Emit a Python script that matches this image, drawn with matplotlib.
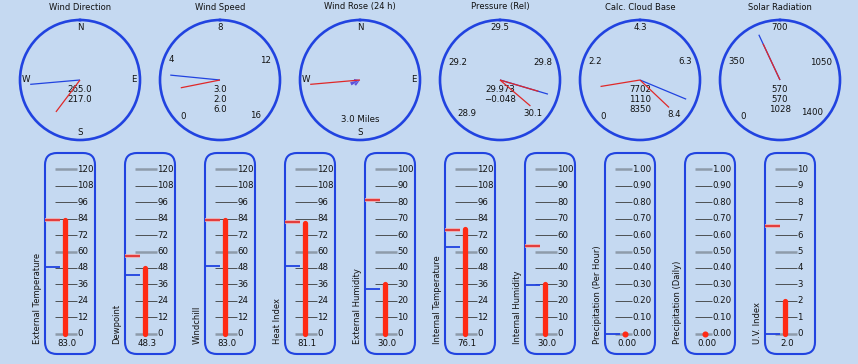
import numpy as np
import matplotlib
matplotlib.use("Agg")
import matplotlib.pyplot as plt
from matplotlib.patches import FancyBboxPatch

# ---------------- data ----------------
gauge_titles = ['Wind Direction', 'Wind Speed', 'Wind Rose (24 h)',
                'Pressure (Rel)', 'Calc. Cloud Base', 'Solar Radiation']

compass_labels = ['N', 'E', 'S', 'W']
compass_angles = [0, 90, 180, 270]

wind_dir_blue = 265.0
wind_dir_red = [217.0]
wind_dir_text = ['265.0', '217.0']

wind_speed_labels = ['0', '4', '8', '12', '16']
wind_speed_range = (0.0, 16.0)
wind_speed_blue = 3.0
wind_speed_red = [2.0]
wind_speed_text = ['3.0', '2.0', '6.0']

wind_rose_red = 265.0
wind_rose_dirs = [225.0, 247.5, 270.0]
wind_rose_counts = [7, 10, 6]
wind_rose_text = ['3.0 Miles']

pressure_labels = ['28.9', '29.2', '29.5', '29.8', '30.1']
pressure_range = (28.9, 30.1)
pressure_blue = 29.973
pressure_red = [29.973, 30.08]
pressure_text = ['29.973', '\u22120.048']

cloud_labels = ['0', '2.2', '4.3', '6.3', '8.4']
cloud_range = (0.0, 8400.0)
cloud_blue = 7702
cloud_red = [1110, 8350]
cloud_text = ['7702', '1110', '8350']

solar_labels = ['0', '350', '700', '1050', '1400']
solar_range = (0.0, 1400.0)
solar_blue = 570
solar_red = [570]
solar_text = ['570', '570', '1028']

therm_labels = ['External Temperature', 'Dewpoint', 'Windchill', 'Heat Index',
                'External Humidity', 'Internal Temperature', 'Internal Humidity',
                'Precipitation (Per Hour)', 'Precipitation (Daily)', 'U.V. Index']
therm_values = [83.0, 48.3, 83.0, 81.1, 30.0, 76.1, 30.0, 0.00, 0.00, 2.0]
therm_value_text = ['83.0', '48.3', '83.0', '81.1', '30.0', '76.1', '30.0',
                    '0.00', '0.00', '2.0']
therm_max = [120, 120, 120, 120, 100, 120, 100, 1.0, 1.0, 10]
therm_step = [12, 12, 12, 12, 10, 12, 10, 0.1, 0.1, 1]
therm_fmt = ['{:.0f}'] * 7 + ['{:.2f}', '{:.2f}', '{:.0f}']
therm_blue = [49.0, 43.0, 49.4, 49.4, 27.0, 63.3, 29.6, 0.0, None, 0.0]
therm_red = [83.2, 56.9, 83.0, 81.3, 81.3, 75.7, 53.2, None, None, 6.57]

# ---------------- style ----------------
W, H = 858, 364
BG = '#C5D9F1'
BLUE = '#2143E0'
RED = '#E02828'
BAR_RED = '#FF2A14'
TXT = '#111111'
FS = 6.2

fig = plt.figure(figsize=(W / 100, H / 100), dpi=100, facecolor=BG)
over = fig.add_axes([0, 0, 1, 1])
over.set_xlim(0, W)
over.set_ylim(H, 0)
over.axis('off')
over.set_facecolor(BG)


def rect_px(x0, y0, w, h):
    return [x0 / W, (H - y0 - h) / H, w / W, h / H]


def label_radius(txt, ang):
    hw = 2.8 * len(txt.replace('.', '')) + 1.2 * txt.count('.')
    hh = 4.0
    a = np.deg2rad(ang)
    return 56.5 - hw * abs(np.sin(a)) - hh * abs(np.cos(a))


def scale_angle(v, rng):
    return -135.0 + (v - rng[0]) / (rng[1] - rng[0]) * 270.0


gauge_cx = [80 + 140 * i for i in range(6)]
gauge_cy = 80
R = 60


def make_gauge(i):
    cx = gauge_cx[i]
    ax = fig.add_axes(rect_px(cx - R, gauge_cy - R, 2 * R, 2 * R), projection='polar')
    ax.set_theta_zero_location('N')
    ax.set_theta_direction(-1)
    ax.set_ylim(0, R)
    ax.set_xticks([])
    ax.set_yticks([])
    ax.grid(False)
    ax.set_facecolor('none')
    ax.spines['polar'].set_color(BLUE)
    ax.spines['polar'].set_linewidth(1.9)
    over.text(cx, 7, gauge_titles[i], ha='center', va='center', fontsize=6.0, color=TXT)
    return ax


def pointer(ax, ang, length, color):
    t = np.deg2rad(ang)
    ax.plot([t, t], [0, length], color=color, lw=0.9, solid_capstyle='butt')


def put_labels(cx, labels, angles):
    for lab, ang in zip(labels, angles):
        r = label_radius(lab, ang)
        a = np.deg2rad(ang)
        over.text(cx + r * np.sin(a), gauge_cy - r * np.cos(a), lab,
                  ha='center', va='center', fontsize=FS, color=TXT)


def put_center_text(cx, lines, y0=89.5):
    for k, s in enumerate(lines):
        over.text(cx, y0 + 10 * k, s, ha='center', va='center', fontsize=FS, color=TXT)


scale_angles = [-135, -67.5, 0, 67.5, 135]

# Wind direction
ax = make_gauge(0)
put_labels(gauge_cx[0], compass_labels, compass_angles)
pointer(ax, wind_dir_blue, 50, BLUE)
for v in wind_dir_red:
    pointer(ax, v, 40, RED)
put_center_text(gauge_cx[0], wind_dir_text)

# Wind speed
ax = make_gauge(1)
put_labels(gauge_cx[1], wind_speed_labels, scale_angles)
pointer(ax, scale_angle(wind_speed_blue, wind_speed_range), 50, BLUE)
for v in wind_speed_red:
    pointer(ax, scale_angle(v, wind_speed_range), 40, RED)
put_center_text(gauge_cx[1], wind_speed_text)

# Wind rose
ax = make_gauge(2)
put_labels(gauge_cx[2], compass_labels, compass_angles)
ax.bar(np.deg2rad(wind_rose_dirs), wind_rose_counts, width=np.deg2rad(20),
       color='#4A3AD8', alpha=0.85, edgecolor='none')
pointer(ax, wind_rose_red, 50, RED)
over.text(gauge_cx[2], 119, wind_rose_text[0], ha='center', va='center',
          fontsize=FS, color=TXT)

# Pressure
ax = make_gauge(3)
put_labels(gauge_cx[3], pressure_labels, scale_angles)
pointer(ax, scale_angle(pressure_blue, pressure_range), 50, BLUE)
for v in pressure_red:
    pointer(ax, scale_angle(v, pressure_range), 40, RED)
put_center_text(gauge_cx[3], pressure_text)

# Cloud base
ax = make_gauge(4)
put_labels(gauge_cx[4], cloud_labels, scale_angles)
pointer(ax, scale_angle(cloud_blue, cloud_range), 50, BLUE)
for v in cloud_red:
    pointer(ax, scale_angle(v, cloud_range), 40, RED)
put_center_text(gauge_cx[4], cloud_text)

# Solar
ax = make_gauge(5)
put_labels(gauge_cx[5], solar_labels, scale_angles)
pointer(ax, scale_angle(solar_blue, solar_range), 50, BLUE)
for v in solar_red:
    pointer(ax, scale_angle(v, solar_range), 40, RED)
put_center_text(gauge_cx[5], solar_text)

# ---------------- thermometers ----------------
BOX_Y0, BOX_H, BOX_W = 153, 201, 50
ZERO_Y, TOP_Y = 333.7, 169.3
SPAN = ZERO_Y - TOP_Y

for i in range(10):
    bx = 45 + 80 * i
    over.add_patch(FancyBboxPatch((bx, BOX_Y0), BOX_W, BOX_H,
                                  boxstyle='round,pad=0,rounding_size=12',
                                  fill=False, edgecolor=BLUE, lw=1.5, zorder=2))
    vmax = therm_max[i]
    ax = fig.add_axes(rect_px(bx, BOX_Y0, BOX_W, BOX_H))
    ax.axis('off')
    ax.set_xlim(0, BOX_W)
    ylo = -(BOX_Y0 + BOX_H - ZERO_Y) / SPAN * vmax
    yhi = vmax + (TOP_Y - BOX_Y0) / SPAN * vmax
    ax.set_ylim(ylo, yhi)

    tick_end = 26.7 if therm_fmt[i] == '{:.2f}' else 32.0
    n = int(round(vmax / therm_step[i]))
    for k in range(n + 1):
        t = k * therm_step[i]
        if k % 5 == 0:
            ax.plot([10, tick_end], [t, t], color='#8E9BAA', lw=1.8,
                    solid_capstyle='butt', zorder=1)
        else:
            ax.plot([10, tick_end], [t, t], color='#3A3A3A', lw=0.6,
                    solid_capstyle='butt', zorder=1)
        ax.text(tick_end + 0.3, t, therm_fmt[i].format(t), ha='left', va='center',
                fontsize=FS, color=TXT)

    v = therm_values[i]
    if therm_red[i] is not None:
        ax.plot([0, 15], [therm_red[i]] * 2, color='#F2A8A8', lw=2.6,
                solid_capstyle='butt', zorder=3, clip_on=False)
        ax.plot([0, 15], [therm_red[i]] * 2, color=RED, lw=1.2,
                solid_capstyle='butt', zorder=3, clip_on=False)
    if therm_blue[i] is not None:
        ax.plot([0, 15], [therm_blue[i]] * 2, color=BLUE, lw=1.3,
                solid_capstyle='butt', zorder=3, clip_on=False)
    if v > 0:
        ax.plot([20, 20], [0, v], color=BAR_RED, lw=3.8, solid_capstyle='round', zorder=4)
    else:
        ax.plot([20], [v], 'o', color=BAR_RED, ms=4.4, mec='none', zorder=4)

    ax.text(22 / BOX_W, (BOX_Y0 + BOX_H - 343.7) / BOX_H, therm_value_text[i],
            transform=ax.transAxes, ha='center', va='center', fontsize=FS, color=TXT)
    ax.text(-8 / BOX_W, (BOX_Y0 + BOX_H - 343.5) / BOX_H, therm_labels[i],
            transform=ax.transAxes, rotation=90, ha='center', va='bottom',
            fontsize=6.0, color=TXT)

fig.savefig('out.png', dpi=100, facecolor=BG)
